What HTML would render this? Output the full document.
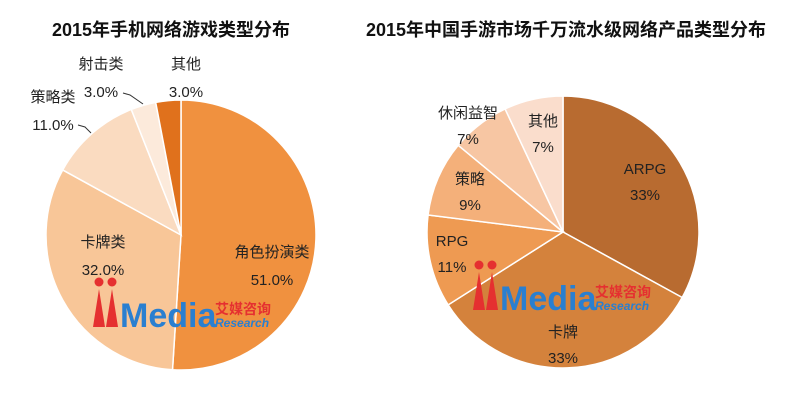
<!DOCTYPE html>
<html><head><meta charset="utf-8"><style>
html,body{margin:0;padding:0;background:#fff;width:800px;height:400px;overflow:hidden}
svg text{font-family:"Liberation Sans","Noto Sans CJK SC",sans-serif}
</style></head><body>
<svg id="chart" width="800" height="400">
<text x="171" y="36" text-anchor="middle" font-size="18" font-weight="bold" fill="#111">2015年手机网络游戏类型分布</text>
<text x="566" y="36" text-anchor="middle" font-size="18" font-weight="bold" fill="#111">2015年中国手游市场千万流水级网络产品类型分布</text>
<g id="left"></g><g id="right"></g>
<g id="labels"></g>
</svg>
<script>
const leftCats=["角色扮演类","卡牌类","策略类","射击类","其他"];
const leftVals=[51,32,11,3,3];
const leftLabels=["51.0%","32.0%","11.0%","3.0%","3.0%"];
const rightCats=["ARPG","卡牌","RPG","策略","休闲益智","其他"];
const rightVals=[33,33,11,9,7,7];
const rightLabels=["33%","33%","11%","9%","7%","7%"];
const leftColors=["#F0913F","#F8C698","#FADBC0","#FCEADB","#E0711C"];
const rightColors=["#B86B30","#D4823C","#EE9A52","#F4B07A","#F7C6A3","#FADDCC"];
const NS="http://www.w3.org/2000/svg";
function pie(g,cx,cy,r,vals,colors,name){
  const tot=vals.reduce((a,b)=>a+b,0);let a0=-Math.PI/2;
  vals.forEach((v,i)=>{
    const a1=a0+v/tot*2*Math.PI;
    const x0=cx+r*Math.cos(a0),y0=cy+r*Math.sin(a0),x1=cx+r*Math.cos(a1),y1=cy+r*Math.sin(a1);
    const p=document.createElementNS(NS,"path");
    p.setAttribute("d",`M${cx},${cy}L${x0},${y0}A${r},${r} 0 ${a1-a0>Math.PI?1:0} 1 ${x1},${y1}Z`);
    p.setAttribute("fill",colors[i]);p.setAttribute("stroke","#fff");p.setAttribute("stroke-width","1.5");
    
    
    g.appendChild(p);a0=a1;
  });
}
pie(document.getElementById("left"),181,235,135,leftVals,leftColors,"left");
pie(document.getElementById("right"),563,232,136,rightVals,rightColors,"right");
const lab=document.getElementById("labels");
function txt(x,y,s,anchor){
  const t=document.createElementNS(NS,"text");
  t.setAttribute("x",x);t.setAttribute("y",y);t.setAttribute("font-size","15");t.setAttribute("fill","#222");
  t.setAttribute("text-anchor",anchor||"middle");t.textContent=s;
  
  
  lab.appendChild(t);
}
const lpos=[[272,257],[103,247],[53,102],[101,69],[186,69]];
leftCats.forEach((c,i)=>{txt(lpos[i][0],lpos[i][1],c);txt(lpos[i][0],lpos[i][1]+28,leftLabels[i]);});
const rpos=[[645,174],[563,337],[452,246],[470,184],[468,118],[543,126]];
rightCats.forEach((c,i)=>{txt(rpos[i][0],rpos[i][1],c);txt(rpos[i][0],rpos[i][1]+26,rightLabels[i]);});
[["M78,125L85,127L91,133"],["M123,93L130,95L143,104"]].forEach(d=>{
  const p=document.createElementNS(NS,"path");p.setAttribute("d",d[0]);p.setAttribute("stroke","#333");p.setAttribute("fill","none");
  
  
  lab.appendChild(p);
});
function logo(x,y){
  const g=document.createElementNS(NS,"g");
  
  
  g.innerHTML=`<circle cx="${x+6}" cy="${y-45}" r="4.5" fill="#e53030"/><circle cx="${x+19}" cy="${y-45}" r="4.5" fill="#e53030"/>
  <path d="M${x},${y}L${x+6},${y-38}L${x+12},${y}Z M${x+13},${y}L${x+19},${y-38}L${x+25},${y}Z" fill="#e53030"/>
  <text x="${x+27}" y="${y}" font-size="34" font-weight="bold" fill="#2a7fd0">Media</text>
  <text x="${x+122}" y="${y-13}" font-size="14" font-weight="bold" fill="#e53030">艾媒咨询</text>
  <text x="${x+122}" y="${y}" font-size="12" font-weight="bold" font-style="italic" fill="#2a7fd0">Research</text>`;
  lab.appendChild(g);
}
logo(93,327);logo(473,310);
</script>
</body></html>
